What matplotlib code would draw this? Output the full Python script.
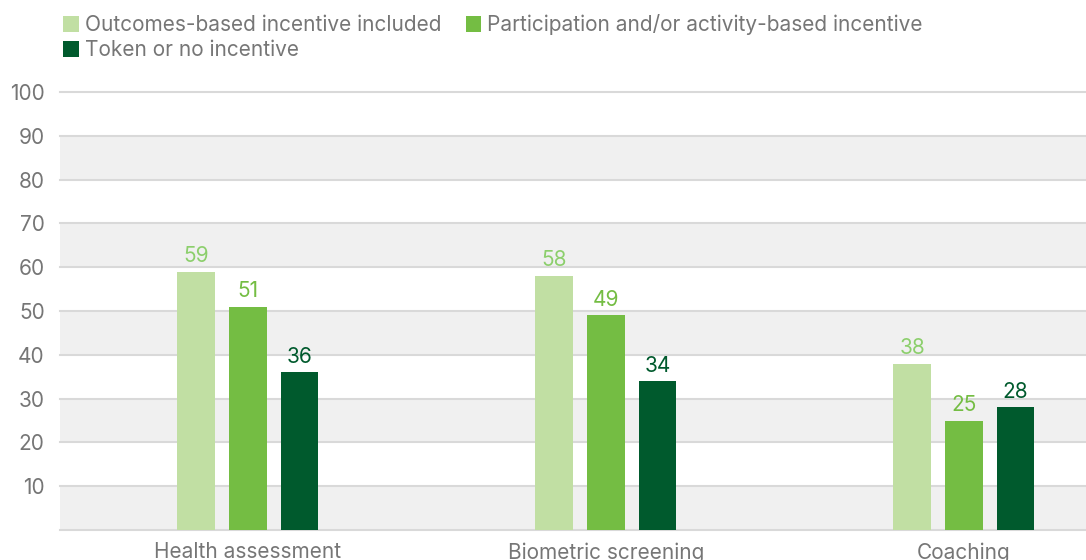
import matplotlib
matplotlib.use("Agg")
import matplotlib.pyplot as plt
import numpy as np

categories = ["Health assessment", "Biometric screening", "Coaching"]
series_names = ["Outcomes-based incentive included",
                "Participation and/or activity-based incentive",
                "Token or no incentive"]
outcomes = [59, 58, 38]
participation = [51, 49, 25]
token = [36, 34, 28]
yticks = [10, 20, 30, 40, 50, 60, 70, 80, 90, 100]

bar_colors = ["#c1dfa3", "#74bd43", "#005a2d"]
label_colors = ["#8ccf6c", "#74bd43", "#005a2d"]
text_gray = "#767676"

plt.rcParams['font.family'] = ['Inter', 'DejaVu Sans']
FS = 15

fig = plt.figure(figsize=(10.86, 5.60), dpi=100)
W, H = 1086, 560
ax = fig.add_axes([60 / W, 30 / H, (W - 60) / W, (530 - 92) / H])

x = np.arange(len(categories))
width = 0.106
offset = 0.144
for i, vals in enumerate([outcomes, participation, token]):
    bars = ax.bar(x + (i - 1) * offset, vals, width=width, color=bar_colors[i],
                  zorder=3, label=series_names[i])
    for b, v in zip(bars, vals):
        ax.annotate(str(v), (b.get_x() + b.get_width() / 2, v),
                    xytext=(0, 4), textcoords="offset points",
                    ha="center", va="bottom", fontsize=FS,
                    color=label_colors[i], zorder=4)

# alternating bands
for lo in range(0, 100, 20):
    ax.axhspan(lo, lo + 10, color="#f0f0f0", zorder=0, lw=0)
for y in [0] + yticks:
    ax.axhline(y, color="#d9d9d9", lw=1.5, zorder=1, clip_on=False)

ax.set_xlim(-0.525, 2.341)
ax.set_ylim(0, 100)
ax.set_yticks(yticks)
ax.set_yticklabels([str(t) for t in yticks])
ax.set_xticks(x)
ax.set_xticklabels(categories)
ax.tick_params(axis="both", length=0, labelsize=FS, colors=text_gray)
ax.tick_params(axis="y", pad=11)
ax.tick_params(axis="x", pad=9)
for s in ax.spines.values():
    s.set_visible(False)

handles, labels = ax.get_legend_handles_labels()
common = dict(frameon=False, fontsize=FS, labelcolor=text_gray,
              handlelength=0.75, handleheight=0.75, handletextpad=0.3,
              borderaxespad=0, borderpad=0.3)
fig.legend(handles[:2], labels[:2], loc="upper left", bbox_to_anchor=(57 / W, 1 - 8 / H),
           ncol=2, columnspacing=1.15, **common)
fig.legend(handles[2:], labels[2:], loc="upper left", bbox_to_anchor=(57 / W, 1 - 34 / H),
           **common)

fig.savefig("out.png", dpi=100)
